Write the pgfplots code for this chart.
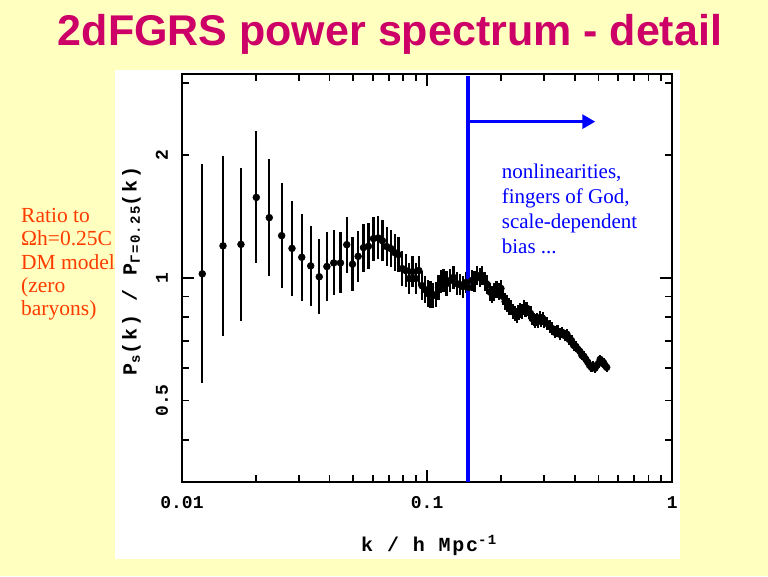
\documentclass[border=0pt]{standalone}
\usepackage{fontspec}
\setmainfont{Liberation Serif}
\newfontfamily\sansf{Liberation Sans}
\newfontfamily\monof{Liberation Mono}
\newfontfamily\labf{Liberation Mono}[LetterSpace=9]
\usepackage{pgfplots}
\pgfplotsset{compat=1.18}
\usepackage{pgfplotstable}
\usetikzlibrary{arrows.meta}
\definecolor{bgyellow}{RGB}{255,255,192}
\definecolor{titlecol}{RGB}{204,0,102}
\definecolor{notecol}{RGB}{255,60,0}

\pgfplotstableread{
k p e
0.0121 1.023 0.269
0.0147 1.198 0.220
0.0174 1.208 0.187
0.0201 1.575 0.162
0.0227 1.405 0.144
0.0255 1.269 0.129
0.0281 1.181 0.117
0.0308 1.123 0.107
0.0335 1.070 0.098
0.0363 1.006 0.092
0.0390 1.066 0.084
0.0416 1.088 0.080
0.0443 1.088 0.075
0.0470 1.206 0.069
0.0496 1.080 0.067
0.0523 1.129 0.063
0.0550 1.186 0.059
0.0576 1.195 0.057
0.0604 1.248 0.054
0.0631 1.253 0.053
0.0657 1.233 0.050
0.0684 1.193 0.048
0.0711 1.180 0.046
0.0738 1.153 0.045
0.0764 1.140 0.043
0.0791 1.054 0.042
0.0818 1.042 0.040
0.0845 0.996 0.039
0.0871 1.036 0.038
0.0898 0.996 0.037
0.0925 1.042 0.036
0.0952 0.957 0.035
0.0979 0.936 0.034
0.1005 0.915 0.033
0.1032 0.910 0.032
0.1059 0.905 0.031
0.1086 0.910 0.030
0.1113 0.947 0.030
0.1139 0.979 0.029
0.1166 0.985 0.029
0.120 0.968 0.030
0.124 0.985 0.029
0.128 1.002 0.029
0.132 0.968 0.028
0.136 0.963 0.027
0.140 0.952 0.027
0.144 0.974 0.026
0.148 0.947 0.026
0.152 0.985 0.025
0.156 0.979 0.025
0.160 1.013 0.024
0.164 1.002 0.024
0.168 1.013 0.023
0.172 0.979 0.023
0.176 0.963 0.023
0.180 0.925 0.022
0.184 0.910 0.022
0.188 0.925 0.022
0.192 0.936 0.021
0.196 0.925 0.021
0.200 0.942 0.021
0.204 0.900 0.020
0.208 0.875 0.020
0.212 0.865 0.020
0.216 0.851 0.020
0.220 0.846 0.019
0.224 0.827 0.019
0.228 0.818 0.019
0.232 0.809 0.019
0.236 0.822 0.018
0.240 0.832 0.018
0.244 0.827 0.018
0.248 0.846 0.018
0.252 0.836 0.018
0.256 0.841 0.017
0.260 0.822 0.017
0.264 0.818 0.017
0.268 0.795 0.017
0.272 0.790 0.017
0.276 0.782 0.017
0.280 0.790 0.016
0.284 0.782 0.016
0.288 0.799 0.016
0.292 0.786 0.016
0.296 0.795 0.016
0.300 0.782 0.016
0.308 0.773 0.016
0.316 0.760 0.015
0.324 0.751 0.015
0.332 0.735 0.015
0.340 0.739 0.015
0.348 0.727 0.015
0.356 0.735 0.014
0.364 0.722 0.014
0.372 0.727 0.014
0.380 0.706 0.014
0.388 0.702 0.014
0.396 0.683 0.014
0.404 0.679 0.014
0.412 0.668 0.012
0.420 0.660 0.012
0.428 0.645 0.012
0.436 0.642 0.012
0.444 0.631 0.012
0.452 0.621 0.012
0.460 0.610 0.012
0.468 0.603 0.012
0.476 0.607 0.012
0.484 0.600 0.011
0.492 0.610 0.011
0.500 0.617 0.011
0.508 0.631 0.011
0.516 0.620 0.011
0.524 0.620 0.011
0.532 0.610 0.011
0.540 0.603 0.011
}\pkdata

\begin{document}
\begin{tikzpicture}[x=1pt,y=1pt]
\fill[bgyellow] (0,0) rectangle (768,576);
\fill[white] (115,17) rectangle (679.5,506);

\node[anchor=base, inner sep=0pt, text=titlecol,
      font=\sansf\bfseries\fontsize{43}{50}\selectfont] at (390,530)
      {2dFGRS power spectrum - detail};

\begin{scope}[every node/.style={anchor=base west, inner sep=0pt, text=notecol,
      font=\fontsize{21.5}{24}\selectfont}]
\node at (21,353) {Ratio to};
\node at (21,330) {Ωh=0.25C};
\node at (21,306) {DM model};
\node at (21,283) {(zero};
\node at (21,260) {baryons)};
\end{scope}

\begin{axis}[
  at={(182pt,94.3pt)}, anchor=south west,
  scale only axis, width=490.3pt, height=407.7pt,
  xmode=log, ymode=log,
  xmin=0.01, xmax=1, ymin=0.31623, ymax=3.1623,
  xtick={0.01,0.1,1}, xticklabels={0.01,0.1,1},
  minor xtick={0.02,0.03,0.04,0.05,0.06,0.07,0.08,0.09,0.2,0.3,0.4,0.5,0.6,0.7,0.8,0.9},
  ytick={1}, yticklabels={1},
  minor ytick={0.4,0.6,0.7,0.8,0.9,3},
  extra y ticks={0.5,2}, extra y tick labels={0.5,2},
  extra y tick style={major tick length=7pt},
  major tick length=12pt, minor tick length=7pt,
  tick pos=both, tick align=inside,
  axis line style={line width=2pt, black},
  tick style={line width=1.8pt, black},
  tick label style={font=\monof\bfseries\fontsize{18}{20}\selectfont},
  xticklabel style={anchor=base},
  xticklabel shift=26.6pt,
  yticklabel style={rotate=90, anchor=base},
  yticklabel shift=14pt,
  xlabel={k / h Mpc\textsuperscript{-1}},
  ylabel={P\textsubscript{s}(k) / P\textsubscript{Γ=0.25}(k)},
  every axis x label/.style={at={(axis description cs:0.5038,-0.1717)}, anchor=base,
      font=\labf\bfseries\fontsize{20}{24}\selectfont},
  every axis y label/.style={at={(axis description cs:-0.0924,0.517)}, rotate=90, anchor=base,
      font=\labf\bfseries\fontsize{20}{24}\selectfont},
]
\addplot[black, only marks, mark=*, mark size=3.4pt,
  mark options={fill=black, draw=black, line width=0.6pt},
  error bars/.cd, y dir=both, y explicit, error mark=none,
  error bar style={line width=2.2pt, black}]
  table[x=k, y=p,
        y error plus expr={\thisrow{p}*(10^(\thisrow{e})-1)},
        y error minus expr={\thisrow{p}*(1-10^(-\thisrow{e}))}] {\pkdata};
\draw[blue, line width=3.5pt] (axis cs:0.147,0.3162) -- (axis cs:0.147,3.12);
\draw[blue, line width=3pt, -{Triangle[length=13pt,width=14pt]}]
  (axis cs:0.147,2.416) -- (axis cs:0.485,2.416);
\end{axis}

\begin{scope}[every node/.style={anchor=base west, inner sep=0pt, text=blue,
      font=\fontsize{21}{25}\selectfont}]
\node at (501.7,397) {nonlinearities,};
\node at (501.7,372) {fingers of God,};
\node at (501.7,347) {scale-dependent};
\node at (501.7,322) {bias ...};
\end{scope}

\pgfresetboundingbox
\useasboundingbox (0,0) rectangle (768,576);
\end{tikzpicture}
\end{document}
